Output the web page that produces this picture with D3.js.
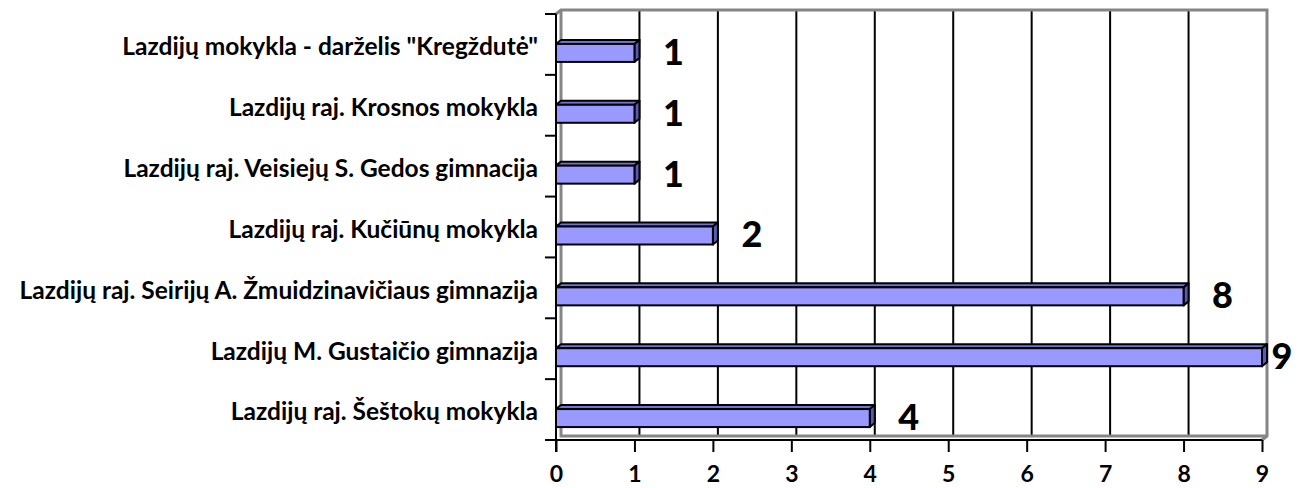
<!DOCTYPE html>
<html>
<head>
<meta charset="utf-8">
<script src="https://cdn.jsdelivr.net/npm/d3@7"></script>
<style>
  body { margin: 0; background: #fff; }
  text { font-family: Lato, "Open Sans", sans-serif; font-weight: bold; fill: #000; }
</style>
</head>
<body>
<svg id="chart" width="1304" height="488"></svg>
<script>
// schools, top to bottom as in the chart
var categories = [
  'Lazdijų mokykla - darželis "Kregždutė"',
  "Lazdijų raj. Krosnos mokykla",
  "Lazdijų raj. Veisiejų S. Gedos gimnacija",
  "Lazdijų raj. Kučiūnų mokykla",
  "Lazdijų raj. Seirijų A. Žmuidzinavičiaus gimnazija",
  "Lazdijų M. Gustaičio gimnazija",
  "Lazdijų raj. Šeštokų mokykla"
];
var values = [1, 1, 1, 2, 8, 9, 4];
var xTicks = [0, 1, 2, 3, 4, 5, 6, 7, 8, 9];

var svg = d3.select("#chart");

var pLeft = 556, pRight = 1262, pTop = 14, pBottom = 440;
var dx = 5, dy = -4;          // 3d depth offset
var barH = 18, barShift = 8.5;

var x = d3.scaleLinear().domain([0, 9]).range([pLeft, pRight]);
var y = d3.scaleBand().domain(categories).range([pTop, pBottom]);

var grey = "#858585";

// back wall gridlines
svg.selectAll(".grid")
  .data(xTicks.filter(function(d) { return d > 0 && d < 9; }))
  .enter().append("line")
  .attr("x1", function(d) { return x(d) + dx; })
  .attr("x2", function(d) { return x(d) + dx; })
  .attr("y1", pTop + dy)
  .attr("y2", pBottom + dy)
  .attr("stroke", "#000").attr("stroke-width", 2);

// walls outline
var wall = d3.path();
wall.moveTo(pLeft, pTop);
wall.lineTo(pLeft + dx, pTop + dy);
wall.lineTo(pRight + dx, pTop + dy);
wall.lineTo(pRight + dx, pBottom + dy);
wall.lineTo(pRight, pBottom);
wall.moveTo(pLeft + dx, pTop + dy);
wall.lineTo(pLeft + dx, pBottom + dy);
wall.lineTo(pRight + dx, pBottom + dy);
svg.append("path").attr("d", wall.toString())
  .attr("fill", "none").attr("stroke", grey).attr("stroke-width", 3);

// bars
var g = svg.selectAll(".bar")
  .data(categories)
  .enter().append("g");

function yTop(i) { return y(categories[i]) + y.bandwidth() / 2 + barShift - barH / 2; }

g.append("path")
  .attr("d", function(d, i) {
    var x0 = x(0), x1 = x(values[i]), t = yTop(i);
    return "M" + x0 + "," + t + "L" + (x0 + dx) + "," + (t + dy) + "L" + (x1 + dx) + "," + (t + dy) + "L" + x1 + "," + t + "Z";
  })
  .attr("fill", "#7373d6").attr("stroke", "#000").attr("stroke-width", 2).attr("stroke-linejoin", "round");

g.append("path")
  .attr("d", function(d, i) {
    var x1 = x(values[i]), t = yTop(i);
    return "M" + x1 + "," + t + "L" + (x1 + dx) + "," + (t + dy) + "L" + (x1 + dx) + "," + (t + barH + dy) + "L" + x1 + "," + (t + barH) + "Z";
  })
  .attr("fill", "#5a5ab4").attr("stroke", "#000").attr("stroke-width", 2).attr("stroke-linejoin", "round");

g.append("rect")
  .attr("x", x(0))
  .attr("y", function(d, i) { return yTop(i); })
  .attr("width", function(d, i) { return x(values[i]) - x(0); })
  .attr("height", barH)
  .attr("fill", "#9999ff").attr("stroke", "#000").attr("stroke-width", 2);

// value labels
g.append("text")
  .attr("x", function(d, i) { return Math.min(x(values[i]) + 39, 1282); })
  .attr("y", function(d, i) { return yTop(i) + barH / 2 - 1; })
  .attr("dy", "0.36em")
  .attr("text-anchor", "middle")
  .style("font-size", "36px")
  .style("font-weight", 900)
  .text(function(d, i) { return values[i]; });

// left axis with ticks on category boundaries
svg.append("line")
  .attr("x1", pLeft).attr("x2", pLeft).attr("y1", pTop).attr("y2", pBottom + 12)
  .attr("stroke", "#000").attr("stroke-width", 2);
svg.selectAll(".ytick")
  .data(d3.range(categories.length + 1))
  .enter().append("line")
  .attr("x1", pLeft - 11).attr("x2", pLeft)
  .attr("y1", function(d) { return pTop + d * y.step(); })
  .attr("y2", function(d) { return pTop + d * y.step(); })
  .attr("stroke", "#000").attr("stroke-width", 2);

svg.selectAll(".ylab")
  .data(categories)
  .enter().append("text")
  .attr("x", 538)
  .attr("y", function(d) { return y(d) + y.bandwidth() / 2 + 2; })
  .attr("dy", "0.36em")
  .attr("text-anchor", "end")
  .style("font-size", "24.5px")
  .text(function(d) { return d; });

// bottom axis
var xAxis = svg.append("g")
  .attr("transform", "translate(0," + pBottom + ")")
  .call(d3.axisBottom(x).tickValues(xTicks).tickSize(12).tickPadding(14).tickSizeOuter(0));
xAxis.select(".domain").attr("stroke", "#000").attr("stroke-width", 2)
  .attr("d", "M" + (pLeft - 11) + ",0H" + pRight);
xAxis.selectAll(".tick line").attr("stroke", "#000").attr("stroke-width", 2);
xAxis.selectAll(".tick text")
  .style("font-family", "Lato, sans-serif").style("font-weight", "bold")
  .style("font-size", "23px").attr("fill", "#000");
</script>
</body>
</html>
